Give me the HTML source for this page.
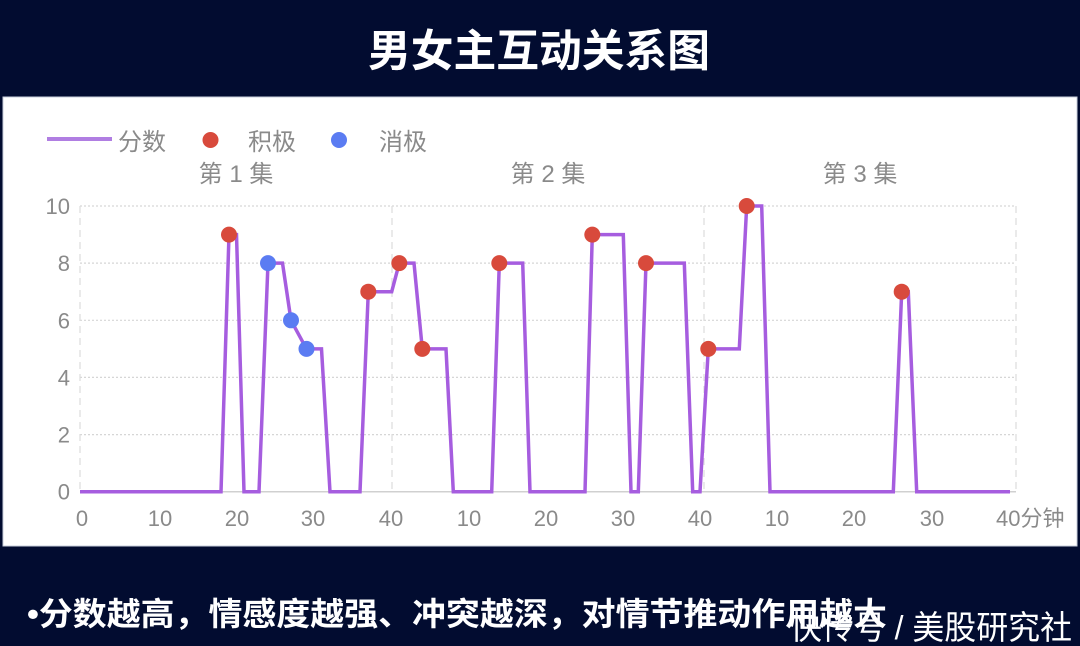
<!DOCTYPE html>
<html>
<head>
<meta charset="utf-8">
<style>
  html, body { margin:0; padding:0; background:#020c30; }
  body { width:1080px; height:646px; overflow:hidden; }
  svg { display:block; }
  .cjk { font-family: "Liberation Sans", "Noto Sans CJK SC", sans-serif; }
</style>
</head>
<body>
<svg width="1080" height="646" viewBox="0 0 1080 646" xmlns="http://www.w3.org/2000/svg">
  <rect x="0" y="0" width="1080" height="646" fill="#020c30"/>
  <!-- Title -->
  <text class="cjk" x="368" y="66" font-size="44" font-weight="bold" fill="#ffffff" textLength="342" lengthAdjust="spacingAndGlyphs">男女主互动关系图</text>

  <!-- White panel -->
  <rect x="3" y="97" width="1074" height="449" fill="#ffffff" stroke="#c9cfdc" stroke-width="1"/>

  <!-- Legend -->
  <line x1="47" y1="139" x2="112" y2="139" stroke="#b07ee2" stroke-width="4"/>
  <text class="cjk" x="118" y="150" font-size="24" fill="#8a8a8a">分数</text>
  <circle cx="210.5" cy="140" r="8" fill="#d84a3c"/>
  <text class="cjk" x="248" y="150" font-size="24" fill="#8a8a8a">积极</text>
  <circle cx="339" cy="140" r="8" fill="#5b7cf2"/>
  <text class="cjk" x="379" y="150" font-size="24" fill="#8a8a8a">消极</text>

  <!-- Episode labels -->
  <text class="cjk" x="236" y="182" font-size="24" fill="#8a8a8a" text-anchor="middle">第 1 集</text>
  <text class="cjk" x="548" y="182" font-size="24" fill="#8a8a8a" text-anchor="middle">第 2 集</text>
  <text class="cjk" x="860" y="182" font-size="24" fill="#8a8a8a" text-anchor="middle">第 3 集</text>

  <!-- Horizontal grid (dotted) -->
  <g stroke="#d6d6d6" stroke-width="1.2" stroke-dasharray="2,2">
    <line x1="80" y1="206" x2="1016" y2="206"/>
    <line x1="80" y1="263.1" x2="1016" y2="263.1"/>
    <line x1="80" y1="320.3" x2="1016" y2="320.3"/>
    <line x1="80" y1="377.4" x2="1016" y2="377.4"/>
    <line x1="80" y1="434.6" x2="1016" y2="434.6"/>
  </g>
  <!-- Vertical dashed separators -->
  <g stroke="#dcdcdc" stroke-width="1.2" stroke-dasharray="7,5">
    <line x1="80" y1="206" x2="80" y2="491.7"/>
    <line x1="392" y1="206" x2="392" y2="491.7"/>
    <line x1="704" y1="206" x2="704" y2="491.7"/>
    <line x1="1016" y1="206" x2="1016" y2="491.7"/>
  </g>
  <!-- Baseline -->
  <line x1="80" y1="491.7" x2="1016" y2="491.7" stroke="#d0d0d0" stroke-width="1.5"/>

  <!-- Y labels -->
  <g font-family="Liberation Sans, sans-serif" font-size="22" fill="#8a8a8a" text-anchor="end">
    <text x="70" y="214">10</text>
    <text x="70" y="271.1">8</text>
    <text x="70" y="328.3">6</text>
    <text x="70" y="385.4">4</text>
    <text x="70" y="442.6">2</text>
    <text x="70" y="499.7">0</text>
  </g>
  <!-- X labels -->
  <g font-family="Liberation Sans, sans-serif" font-size="22" fill="#8a8a8a" text-anchor="middle">
    <text x="82" y="526">0</text>
    <text x="160" y="526">10</text>
    <text x="237" y="526">20</text>
    <text x="313" y="526">30</text>
    <text x="391" y="526">40</text>
    <text x="469" y="526">10</text>
    <text x="546" y="526">20</text>
    <text x="623" y="526">30</text>
    <text x="700" y="526">40</text>
    <text x="777" y="526">10</text>
    <text x="854" y="526">20</text>
    <text x="932" y="526">30</text>
  </g>
  <text class="cjk" x="996" y="526" font-size="22" fill="#8a8a8a">40分钟</text>

  <!-- Series line -->
  <polyline fill="none" stroke="#a65ddf" stroke-width="3.5" stroke-linejoin="miter"
    points="80,491.7 221,491.7 229,234.6 236.5,234.6 244,491.7 259,491.7 268,263.1 282.5,263.1 291,320.3 306.5,348.9 321.5,348.9 330,491.7 360,491.7 368.3,291.7 391.7,291.7 399.3,263.1 414,263.1 422.3,348.9 446,348.9 453.3,491.7 491.7,491.7 499.3,263.1 522.7,263.1 530,491.7 585,491.7 592.3,234.6 623.3,234.6 631,491.7 638.3,491.7 646,263.1 684.3,263.1 692.7,491.7 700,491.7 708.3,348.9 739.3,348.9 746.7,206 761.7,206 770,491.7 893.3,491.7 901.7,291.7 908.3,291.7 916.7,491.7 1010,491.7"/>

  <!-- Markers -->
  <g fill="#d84a3c">
    <circle cx="229" cy="234.6" r="8"/>
    <circle cx="368.3" cy="291.7" r="8"/>
    <circle cx="399.3" cy="263.1" r="8"/>
    <circle cx="422.3" cy="348.9" r="8"/>
    <circle cx="499.3" cy="263.1" r="8"/>
    <circle cx="592.3" cy="234.6" r="8"/>
    <circle cx="646" cy="263.1" r="8"/>
    <circle cx="708.3" cy="348.9" r="8"/>
    <circle cx="746.7" cy="206" r="8"/>
    <circle cx="901.7" cy="291.7" r="8"/>
  </g>
  <g fill="#5b7cf2">
    <circle cx="268" cy="263.1" r="8"/>
    <circle cx="291" cy="320.3" r="8"/>
    <circle cx="306.5" cy="348.9" r="8"/>
  </g>

  <!-- Bottom note -->
  <text class="cjk" x="27" y="625" font-size="32" font-weight="bold" fill="#ffffff" textLength="860" lengthAdjust="spacingAndGlyphs">•分数越高，情感度越强、冲突越深，对情节推动作用越大</text>
  <!-- Watermark -->
  <text class="cjk" x="790" y="639" font-size="33" fill="#ffffff" textLength="282" lengthAdjust="spacingAndGlyphs">快传号 / 美股研究社</text>
</svg>
</body>
</html>
